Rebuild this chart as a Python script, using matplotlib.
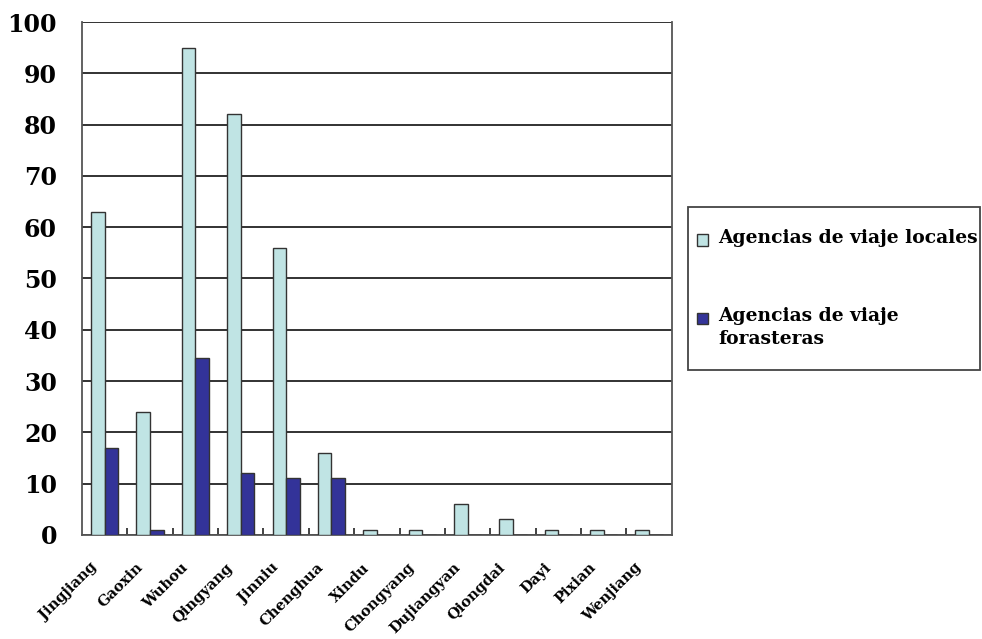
import numpy as np
import matplotlib
matplotlib.use("Agg")
import matplotlib.pyplot as plt
import matplotlib.transforms as mtransforms
from matplotlib.patches import Rectangle
from matplotlib.ticker import FixedLocator

districts = ["Jingjiang", "Gaoxin", "Wuhou", "Qingyang", "Jinniu", "Chenghua", "Xindu",
             "Chongyang", "Dujiangyan", "Qiongdai", "Dayi", "Pixian", "Wenjiang"]
local_agencies = [63, 24, 95, 82, 56, 16, 1, 1, 6, 3, 1, 1, 1]
outside_agencies = [17, 1, 34.5, 12, 11, 11, 0, 0, 0, 0, 0, 0, 0]
series_labels = ["Agencias de viaje locales", "Agencias de viaje\nforasteras"]
series_colors = ["#C0E4E4", "#333399"]
y_ticks = list(range(0, 101, 10))

plt.rcParams.update({"font.family": "DejaVu Serif", "font.weight": "bold"})

W, H = 982, 639
fig = plt.figure(figsize=(W / 100, H / 100), dpi=100)
ax = fig.add_axes([0.0835, 0.163, 0.6005, 0.8025])

x = np.arange(len(districts))
width = 0.3
edge = dict(edgecolor="#333333", linewidth=1.0, zorder=3)
ax.bar(x - width / 2, local_agencies, width, color=series_colors[0], **edge)
ax.bar(x + width / 2, outside_agencies, width, color=series_colors[1], **edge)

ax.set_xlim(-0.5, len(districts) - 0.5)
ax.set_ylim(0, 100)
ax.set_yticks(y_ticks)
ax.yaxis.grid(True, color="#222222", linewidth=1.3, zorder=0)
ax.set_axisbelow(True)
ax.tick_params(axis="y", length=0, pad=18, labelsize=17)
for lbl in ax.get_yticklabels():
    lbl.set_fontweight("bold")

# category names sit slanted under each group, shifted down-left
ax.set_xticks(x)
ax.set_xticklabels(districts, rotation=45, ha="right", va="center",
                   rotation_mode="anchor", fontsize=10.5)
ax.tick_params(axis="x", length=0, pad=0)
shift = mtransforms.ScaledTranslation(-7 / 72, -22 / 72, fig.dpi_scale_trans)
for lbl in ax.get_xticklabels():
    lbl.set_transform(lbl.get_transform() + shift)
ax.xaxis.set_minor_locator(FixedLocator(np.arange(0.5, len(districts) - 1, 1)))
ax.tick_params(axis="x", which="minor", direction="in", length=5, width=1.2, color="#222222")

for side in ("left", "right", "top", "bottom"):
    ax.spines[side].set_color("#555555")
    ax.spines[side].set_linewidth(1.3)
ax.spines["top"].set_visible(False)

# legend box drawn by hand so the second swatch lines up with the first text line
fig.patches.append(Rectangle((688 / W, 1 - 370 / H), 292 / W, 163 / H, transform=fig.transFigure,
                             facecolor="white", edgecolor="#444444", linewidth=1.3))
for color, label, yline in zip(series_colors, series_labels, (240, 318)):
    fig.patches.append(Rectangle((697 / W, 1 - (yline + 5.5) / H), 11 / W, 11 / H,
                                 transform=fig.transFigure, facecolor=color,
                                 edgecolor="#333333", linewidth=1.0))
    fig.text(718 / W, 1 - (yline - 11) / H, label, fontsize=13.5, fontweight="bold",
             va="top", ha="left", linespacing=1.35)

fig.savefig("out.png", dpi=100)
